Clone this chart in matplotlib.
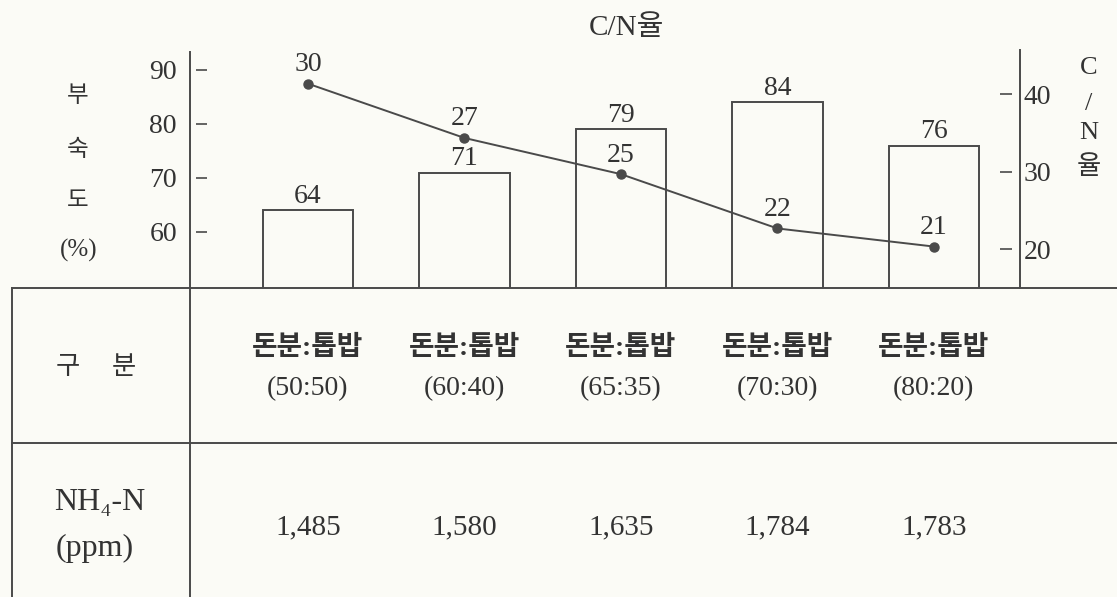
import numpy as np
import matplotlib
matplotlib.use('Agg')
from matplotlib import pyplot as plt
from matplotlib.lines import Line2D
from matplotlib.transforms import blended_transform_factory

plt.rcParams['font.family'] = ['Liberation Serif', 'Noto Sans CJK KR', 'DejaVu Serif']

# data
mixes = ['돈분:톱밥', '돈분:톱밥', '돈분:톱밥', '돈분:톱밥', '돈분:톱밥']
ratios = ['(50:50)', '(60:40)', '(65:35)', '(70:30)', '(80:20)']
maturity = [64, 71, 79, 84, 76]          # 부숙도 (%)
cn_ratio = [30, 27, 25, 22, 21]          # C/N율
nh4n = ['1,485', '1,580', '1,635', '1,784', '1,783']   # NH4-N (ppm)
left_ticks = [60, 70, 80, 90]
right_ticks = [20, 30, 40]

W, H = 1117, 597
paper = '#fbfbf6'
ink = '#333333'
line_c = '#4a4a4a'


def fx(px):
    return px / W


def fy(py):
    return 1 - py / H


def pt(px):
    return px * 72 / 100


fig = plt.figure(figsize=(W / 100, H / 100), dpi=100)
fig.patch.set_facecolor(paper)

ax = fig.add_axes([fx(190), fy(288), fx(1020) - fx(190), fy(52) - fy(288)])
ax.set_facecolor('none')
x = np.arange(len(maturity))
ax.bar(x, maturity, width=0.58, color=paper, edgecolor=line_c, linewidth=1.4)
ax.set_xlim(-0.754, 4.55)
ax.set_ylim(49.63, 93.33)
ax.set_xticks([])
ax.set_yticks(left_ticks)
for s in ['top', 'bottom', 'right', 'left']:
    ax.spines[s].set_visible(False)
ax.spines['left'].set_position(('outward', -pt(6)))
ax.tick_params(axis='y', direction='in', length=pt(11), width=1.2, color=line_c,
               pad=pt(19), labelsize=20, labelcolor=ink)
for xi, v in zip(x, maturity):
    ax.annotate(str(v), (xi, v), xytext=(0, pt(14)), textcoords='offset points',
                ha='center', va='center', fontsize=20, color=ink)

# right axis (C/N ticks)
ax2 = ax.twinx()
ax2.set_ylim(15.0, 45.45)
ax2.set_yticks(right_ticks)
for s in ['top', 'bottom', 'left', 'right']:
    ax2.spines[s].set_visible(False)
ax2.spines['right'].set_position(('outward', -pt(8)))
ax2.tick_params(axis='y', direction='in', length=pt(12), width=1.2, color=line_c,
                pad=pt(12), labelsize=20, labelcolor=ink)

# C/N line
ax3 = ax.twinx()
ax3.set_ylim(18.71, 31.75)
ax3.axis('off')
ax3.plot(x, cn_ratio, color=line_c, linewidth=1.4, marker='o', markersize=6.5)
for xi, v in zip(x, cn_ratio):
    ax3.annotate(str(v), (xi, v), xytext=(0, pt(19)), textcoords='offset points',
                 ha='center', va='center', fontsize=20, color=ink)

# axis titles
fig.text(fx(626), fy(28), 'C/N율', ha='center', va='center', fontsize=21, color=ink)
for ch, py in zip(['부', '숙', '도'], [97, 150, 201]):
    fig.text(fx(78), fy(py), ch, ha='center', va='center', fontsize=17, color=ink)
fig.text(fx(79), fy(250), '(%)', ha='center', va='center', fontsize=18, color=ink)
for ch, py in zip(['C', '/', 'N', '율'], [68, 104, 133, 167]):
    fig.text(fx(1089), fy(py), ch, ha='center', va='center', fontsize=19, color=ink)

# table frame
for xs, ys in [([12, W], [288, 288]), ([12, W], [443, 443]),
               ([12, 12], [288, H]), ([190, 190], [52, H]),
               ([1020, 1020], [50, 288])]:
    fig.add_artist(Line2D([fx(p) for p in xs], [fy(p) for p in ys],
                          color=line_c, linewidth=1.4))

# table text
tr = blended_transform_factory(ax.transData, fig.transFigure)
for xi, m, r, n in zip(x, mixes, ratios, nh4n):
    ax.text(xi, fy(348), m, transform=tr, ha='center', va='center', fontsize=20,
            fontweight='bold', color=ink)
    ax.text(xi, fy(389), r, transform=tr, ha='center', va='center', fontsize=20, color=ink)
    ax.text(xi, fy(527), n, transform=tr, ha='center', va='center', fontsize=21, color=ink)
fig.text(fx(68), fy(368), '구', ha='center', va='center', fontsize=19, color=ink)
fig.text(fx(124), fy(368), '분', ha='center', va='center', fontsize=19, color=ink)
fig.text(fx(100), fy(502), 'NH₄-N', ha='center', va='center', fontsize=23, color=ink)
fig.text(fx(95), fy(548), '(ppm)', ha='center', va='center', fontsize=23, color=ink)

fig.savefig('out.png', dpi=100, facecolor=paper)
